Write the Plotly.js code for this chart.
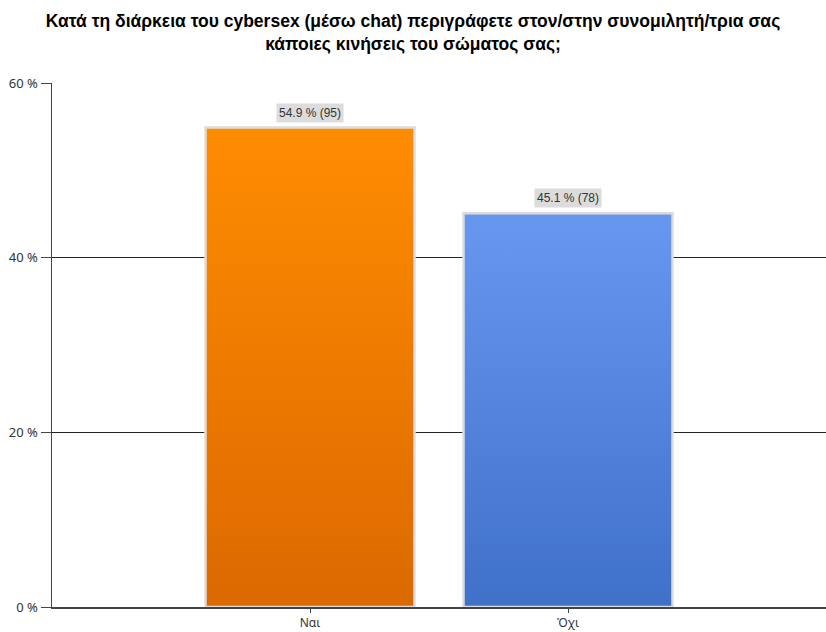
<!DOCTYPE html>
<html>
<head>
<meta charset="utf-8">
<script src="https://cdn.plot.ly/plotly-3.0.1.min.js"></script>
<style>html,body{margin:0;padding:0;background:#fff;}#chart{width:826px;height:632px;}</style>
</head>
<body>
<div id="chart"></div>
<script>
const categories = ["Ναι", "Όχι"];
const percents = [54.9, 45.1];
const counts = [95, 78];
const topColors = ["#FF8C00", "#6797EE"];
const bottomColors = ["#DC6900", "#4071C8"];

const trace = {
  type: "bar",
  x: categories,
  y: percents,
  width: 0.81,
  marker: { color: topColors, line: { color: "#DCDCDC", width: 2.5 } },
  hoverinfo: "none"
};

const annotations = categories.map((c, i) => ({
  x: c, y: percents[i], xref: "x", yref: "y",
  text: percents[i].toFixed(1) + " % (" + counts[i] + ")",
  showarrow: false, yanchor: "bottom", yshift: 5,
  bgcolor: "#DCDCDC", borderpad: 2,
  font: { family: "Liberation Sans, Arial, sans-serif", size: 12, color: "#333" }
}));

const layout = {
  width: 826, height: 632,
  margin: { l: 52, r: 0, t: 83, b: 25 },
  paper_bgcolor: "#fff", plot_bgcolor: "#fff",
  showlegend: false,
  title: {
    text: "<b>Κατά τη διάρκεια του cybersex (μέσω chat) περιγράφετε στον/στην συνομιλητή/τρια σας<br>κάποιες κινήσεις του σώματος σας;</b>",
    x: 0.5, xanchor: "center", y: 0.957, yanchor: "top",
    font: { family: "Liberation Sans, Arial, sans-serif", size: 17.5, color: "#000" }
  },
  xaxis: {
    type: "category", range: [-1, 2],
    showline: true, linecolor: "#444", linewidth: 2,
    ticks: "outside", ticklen: 4, tickcolor: "#444",
    showgrid: false,
    tickfont: { family: "Noto Sans, sans-serif", size: 12, color: "#333" }
  },
  yaxis: {
    range: [0, 60], dtick: 20, ticksuffix: " %",
    showline: true, linecolor: "#444", linewidth: 1.5,
    ticks: "outside", ticklen: 10, tickcolor: "#444",
    showgrid: true, gridcolor: "#222", gridwidth: 1,
    zeroline: false,
    tickfont: { family: "Noto Sans, sans-serif", size: 13, color: "#333" }
  },
  annotations: annotations
};

Plotly.newPlot("chart", [trace], layout, { displayModeBar: false, staticPlot: true }).then(() => {
  const svgNS = "http://www.w3.org/2000/svg";
  const svg = document.querySelector("#chart .main-svg");
  let defs = svg.querySelector("defs");
  if (!defs) { defs = document.createElementNS(svgNS, "defs"); svg.insertBefore(defs, svg.firstChild); }
  const paths = document.querySelectorAll("#chart .bars .point path");
  paths.forEach((p, i) => {
    const g = document.createElementNS(svgNS, "linearGradient");
    g.setAttribute("id", "bargrad" + i);
    g.setAttribute("x1", "0"); g.setAttribute("y1", "0");
    g.setAttribute("x2", "0"); g.setAttribute("y2", "1");
    const s1 = document.createElementNS(svgNS, "stop");
    s1.setAttribute("offset", "0"); s1.setAttribute("stop-color", topColors[i]);
    const s2 = document.createElementNS(svgNS, "stop");
    s2.setAttribute("offset", "1"); s2.setAttribute("stop-color", bottomColors[i]);
    g.appendChild(s1); g.appendChild(s2);
    defs.appendChild(g);
    p.style.fill = "url(#bargrad" + i + ")";
  });
});
</script>
</body>
</html>
